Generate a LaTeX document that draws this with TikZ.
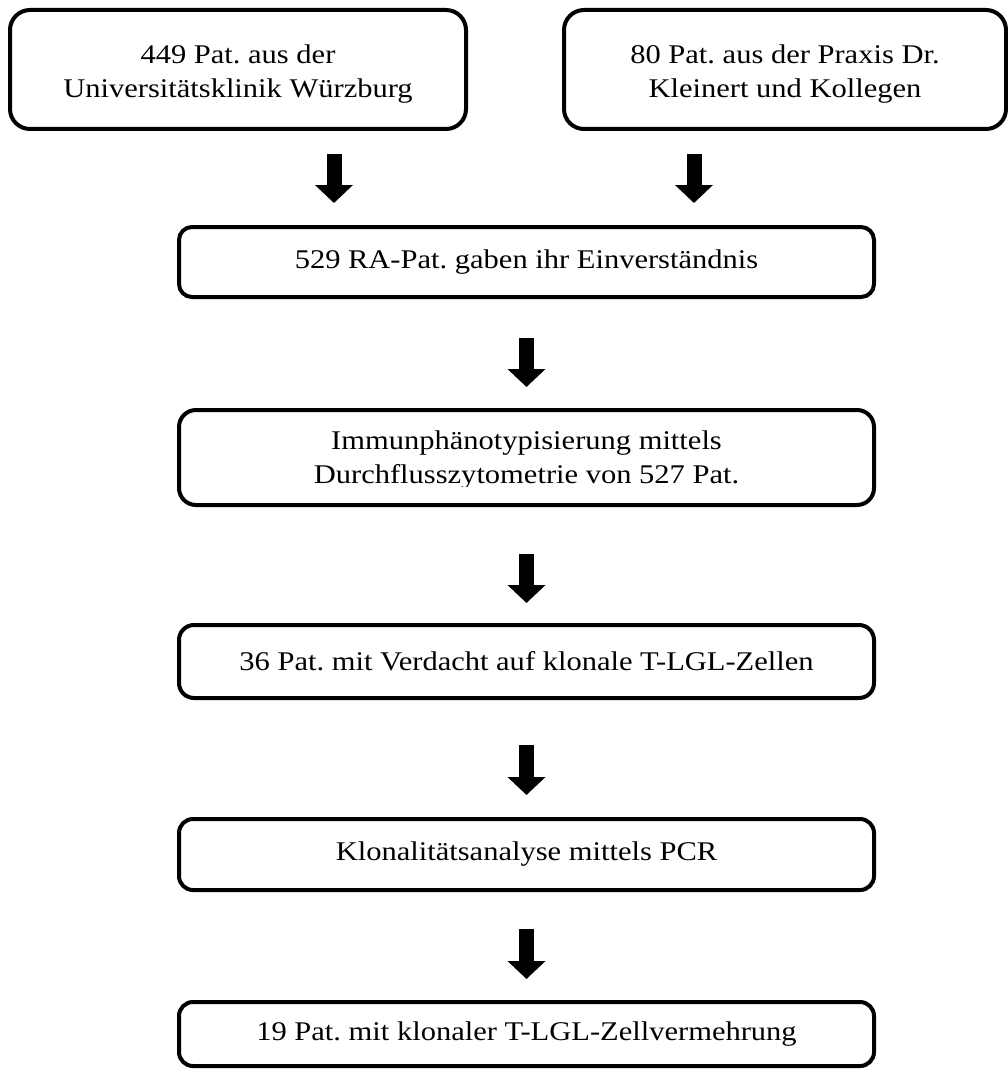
\documentclass[tikz,border=0pt]{standalone}
\usepackage{fontspec}
\setmainfont[FakeStretch=1.13]{Liberation Serif}
\usetikzlibrary{arrows.meta,calc}
\begin{document}
\frenchspacing
\begin{tikzpicture}[x=1pt,y=-1pt,
  box/.style={draw, line width=4pt, rounded corners=#1, inner sep=0pt, align=center, font=\fontsize{27}{34}\selectfont},
  box/.default=14pt,
  txt/.style={inner sep=0pt, align=center, font=\fontsize{27}{34}\selectfont},
  flow/.style={line width=15pt, -{Triangle[length=18pt,width=37pt]}},
]
\useasboundingbox[fill=white] (0,0) rectangle (1008,1070);
\node[box=20pt, minimum width=456pt, minimum height=119pt] (b1) at (238,69.5) {};
\node[txt] (b1t) at (238,74) {449 Pat. aus der\\Universitätsklinik Würzburg};
\node[box=20pt, minimum width=442pt, minimum height=119pt] (b2) at (785,69.5) {};
\node[txt] (b2t) at (785,74) {80 Pat. aus der Praxis Dr.\\Kleinert und Kollegen};
\node[box=13pt, minimum width=695pt, minimum height=70pt] (b3) at (526.5,262) {529 RA-Pat. gaben ihr Einverständnis};
\node[box=17pt, minimum width=695pt, minimum height=95pt] (b4) at (526.5,457.5) {};
\node[txt, anchor=base] (b4t1) at (526.5,449) {Immunphänotypisierung mittels};
\begin{scope}
\clip (0,0) rectangle (1008,486);
\node[txt, anchor=base] (b4t2) at (526.5,483) {Durchflusszytometrie von 527 Pat.};
\end{scope}
\node[box=15pt, minimum width=695pt, minimum height=73pt] (b5) at (526.5,661.5) {36 Pat. mit Verdacht auf klonale T-LGL-Zellen};
\node[box=14pt, minimum width=695pt, minimum height=71pt] (b6) at (526.5,854.5) {Klonalitätsanalyse mittels PCR};
\node[box=14pt, minimum width=695pt, minimum height=64pt] (b7) at (526.5,1034) {19 Pat. mit klonaler T-LGL-Zellvermehrung};
\coordinate (la) at (334,0);
\coordinate (ra) at (694,0);
\draw[flow, shorten <=23pt, shorten >=22pt] (b1.south -| la) -- (b3.north -| la);
\draw[flow, shorten <=23pt, shorten >=22pt] (b2.south -| ra) -- (b3.north -| ra);
\draw[flow, shorten <=39pt, shorten >=21pt] (b3.south) -- (b4.north);
\draw[flow, shorten <=47pt, shorten >=20pt] (b4.south) -- (b5.north);
\draw[flow, shorten <=45pt, shorten >=22pt] (b5.south) -- (b6.north);
\draw[flow, shorten <=37pt, shorten >=21pt] (b6.south) -- (b7.north);
\end{tikzpicture}
\end{document}
